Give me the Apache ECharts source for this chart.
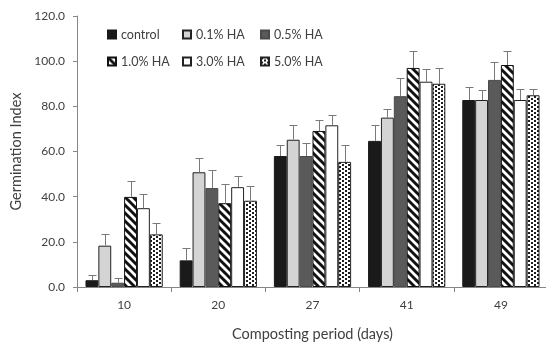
<!DOCTYPE html>
<html><head><meta charset="utf-8">
<script src="https://cdn.jsdelivr.net/npm/echarts@6/dist/echarts.min.js"></script>
<style>html,body{margin:0;padding:0;background:#fff}#c{width:546px;height:342px}</style>
</head><body><div id="c"></div>
<script>
const categories = ['10','20','27','41','49'];
const seriesNames = ['control','0.1% HA','0.5% HA','1.0% HA','3.0% HA','5.0% HA'];
const control = [3.0, 11.8, 58.0, 64.7, 82.8];
const controlErr = [2.1, 5.3, 4.9, 6.9, 5.9];
const ha01 = [18.3, 50.8, 65.2, 75.0, 82.8];
const ha01Err = [5.0, 6.2, 6.4, 3.7, 4.3];
const ha05 = [1.9, 43.8, 58.0, 84.5, 91.7];
const ha05Err = [2.2, 8.0, 5.9, 8.1, 8.1];
const ha10 = [39.9, 37.1, 69.1, 97.0, 98.3];
const ha10Err = [7.0, 8.6, 4.9, 7.7, 6.4];
const ha30 = [34.9, 44.2, 71.6, 90.9, 82.8];
const ha30Err = [6.1, 5.1, 4.4, 5.8, 4.9];
const ha50 = [23.3, 38.2, 55.4, 90.0, 84.9];
const ha50Err = [5.0, 6.7, 7.5, 6.9, 2.8];
const yTicks = {min: 0, max: 120, interval: 20};

const values = [control, ha01, ha05, ha10, ha30, ha50];
const errors = [controlErr, ha01Err, ha05Err, ha10Err, ha30Err, ha50Err];

function makeStripes(){
  const c = document.createElement('canvas'); c.width = 8; c.height = 8;
  const g = c.getContext('2d');
  g.fillStyle = '#fff'; g.fillRect(0,0,8,8);
  g.strokeStyle = '#111'; g.lineWidth = 2.9;
  for (const k of [-8, 0, 8]) { g.beginPath(); g.moveTo(-1, k-1); g.lineTo(9, k+9); g.stroke(); }
  return c;
}
function makeDots(){
  const c = document.createElement('canvas'); c.width = 6; c.height = 4;
  const g = c.getContext('2d');
  g.fillStyle = '#fff'; g.fillRect(0,0,6,4);
  g.fillStyle = '#1e1e1e';
  g.fillRect(0,0,2,2); g.fillRect(3,2,2,2);
  return c;
}
const fills = [
  '#1a1a1a', '#d4d4d4', '#5a5a5a',
  {image: makeStripes(), repeat: 'repeat'},
  '#ffffff',
  {image: makeDots(), repeat: 'repeat'}
];
const borders = ['#1a1a1a', '#222', '#4a4a4a', '#111', '#222', '#222'];

const CAT_GAP = 0.18;
const font = 'Lato';
const txt = '#404040';

const barSeries = seriesNames.map((n, j) => ({
  name: n, type: 'bar', data: values[j],
  barGap: '0%', barCategoryGap: (CAT_GAP*100)+'%',
  itemStyle: {color: fills[j], borderColor: borders[j], borderWidth: 1},
  emphasis: {disabled: true}, animation: false
}));

const errData = [];
values.forEach((arr, j) => arr.forEach((v, i) => errData.push([i, j, v, errors[j][i]])));

const errSeries = {
  type: 'custom', animation: false, silent: true, z: 5,
  encode: {x: 0, y: 2},
  data: errData,
  renderItem: function(params, api){
    const cat = api.value(0), j = api.value(1), v = api.value(2), e = api.value(3);
    const base = api.coord([cat, v]);
    const top = api.coord([cat, v + e]);
    const catW = api.size([1, 0])[0];
    const bw = catW * (1 - CAT_GAP) / seriesNames.length;
    const x = Math.round(base[0] + (j - (seriesNames.length-1)/2) * bw) + 0.5;
    const yt = Math.round(top[1]) + 0.5;
    const st = {stroke: '#7a7a7a', lineWidth: 1};
    return {type: 'group', children: [
      {type: 'line', shape: {x1: x, y1: base[1], x2: x, y2: yt}, style: st},
      {type: 'line', shape: {x1: x - 4, y1: yt, x2: x + 4, y2: yt}, style: st}
    ]};
  }
};

const legendBase = {orient: 'vertical', top: 28, padding: 0, itemWidth: 8, itemHeight: 8, itemGap: 14,
  icon: 'rect', textStyle: {fontFamily: font, fontSize: 12.5, color: txt}, selectedMode: false};

const chart = echarts.init(document.getElementById('c'), null, {renderer: 'canvas'});
chart.setOption({
  animation: false,
  textStyle: {fontFamily: font},
  grid: {left: 77, top: 16, width: 471, height: 271, containLabel: false, outerBoundsMode: 'none'},
  legend: [
    Object.assign({}, legendBase, {left: 107, data: [seriesNames[0], seriesNames[3]]}),
    Object.assign({}, legendBase, {left: 182, data: [seriesNames[1], seriesNames[4]]}),
    Object.assign({}, legendBase, {left: 260, data: [seriesNames[2], seriesNames[5]]})
  ],
  xAxis: {
    type: 'category', data: categories,
    name: 'Composting period (days)', nameLocation: 'middle', nameGap: 40,
    nameTextStyle: {fontFamily: font, fontSize: 14.5, color: txt},
    axisLine: {lineStyle: {color: '#868686'}},
    axisTick: {show: true, length: 5, lineStyle: {color: '#868686'}},
    axisLabel: {fontFamily: font, fontSize: 12, color: txt, margin: 12}
  },
  yAxis: {
    type: 'value', min: yTicks.min, max: yTicks.max, interval: yTicks.interval,
    name: 'Germination Index', nameLocation: 'middle', nameGap: 51,
    nameTextStyle: {fontFamily: font, fontSize: 14.5, color: txt},
    axisLine: {show: true, lineStyle: {color: '#868686'}},
    axisTick: {show: true, length: 4, lineStyle: {color: '#868686'}},
    splitLine: {show: false},
    axisLabel: {fontFamily: font, fontSize: 12, color: txt, margin: 12,
      formatter: v => v.toFixed(1)}
  },
  series: barSeries.concat([errSeries])
});
</script></body></html>
